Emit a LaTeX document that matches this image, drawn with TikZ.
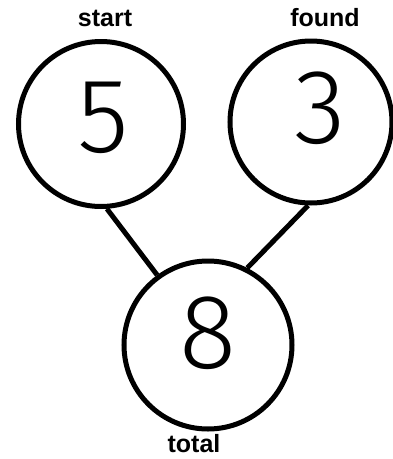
\documentclass[tikz,border=0pt]{standalone}
\usepackage{fontspec}
\setmainfont{Liberation Sans}
\newfontfamily\handfont{Fira Sans Light}
\tikzset{%
  part/.style ={circle, draw=black, line width=5pt, minimum size=165pt, inner sep=0pt},
  digit/.style={inner sep=0pt, font=\handfont\fontsize{106}{106}\selectfont},
  tag/.style={inner sep=0pt, font=\bfseries\fontsize{25}{25}\selectfont},
  link/.style={line width=5pt}
}
\begin{document}
\begin{tikzpicture}[x=1pt, y=-1pt]
  \useasboundingbox (0,0) rectangle (393,459);
  \node[part] (start) at (101, 124) {};
  \node[part, minimum size=162pt] (found) at (311, 122) {};
  \node[part, minimum size=168pt] (total) at (208, 345) {};
  \node[digit] (five) at (103, 118) {5};
  \node[digit] (three) at (320, 108) {3};
  \node[digit] (eight) at (208, 333) {8};
  \node[tag] (lstart) at (105, 18) {start};
  \node[tag] (lfound) at (325, 18) {found};
  \node[tag] (ltotal) at (194, 444) {total};
  % parts to the whole
  \draw[link] (start.-86) -- (total.126);
  \draw[link] (found.-92) -- (total.63);
\end{tikzpicture}
\end{document}
